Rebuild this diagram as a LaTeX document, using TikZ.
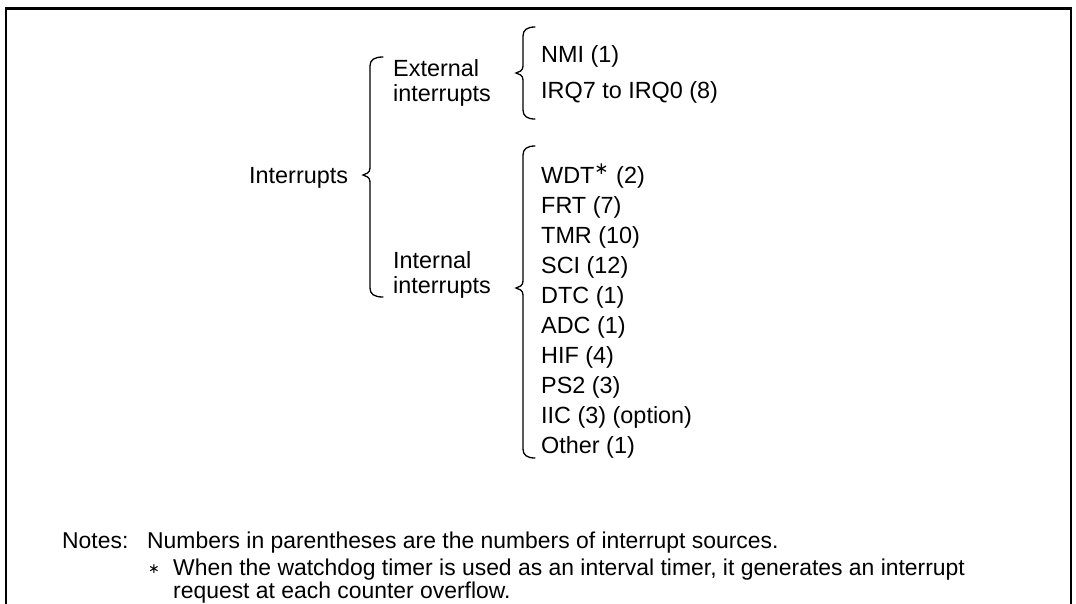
\documentclass[tikz,border=0pt]{standalone}
\usepackage{fontspec}
\setmainfont{Liberation Sans}
\newfontfamily\symfont{DejaVu Sans}
\newcommand\drawbrace[6]{% xv, xtip, xcurl, ytop, ymid, ybot
  \draw[bracestyle] (#3,#4) .. controls (#1+4,#4) and (#1,#4+3) .. (#1,#4+9)
    -- (#1,#5-7) .. controls (#1,#5-2) and (#2+3,#5-1) .. (#2,#5)
    .. controls (#2+3,#5+1) and (#1,#5+2) .. (#1,#5+7)
    -- (#1,#6-9) .. controls (#1,#6-3) and (#1+4,#6) .. (#3,#6);}
\begin{document}
\begin{tikzpicture}[x=1pt,y=-1pt,
  every node/.style={inner sep=0pt, font=\fontsize{23.4}{25}\selectfont},
  lbl/.style={anchor=base west},
  note/.style={anchor=base west, font=\fontsize{22.9}{25}\selectfont},
  bracestyle/.style={line width=1.3pt, line cap=round},
  frame/.style={line width=2.6pt}]
\useasboundingbox (0,0) rectangle (1076,603);
\draw[frame] (6,604) -- (6,8.7) -- (1071,8.7) -- (1071,604);

\node[lbl] (int) at (249,183) {Interrupts};
\node[lbl, align=left] (ext) at (393,101) {External\\interrupts};
\node[lbl, align=left] (inl) at (393,293) {Internal\\interrupts};

\node[lbl] (nmi) at (541,62) {NMI (1)};
\node[lbl] (irq) at (541,98) {IRQ7 to IRQ0 (8)};

\node[lbl] (wdt) at (541,183) {WDT\raisebox{9pt}{\symfont\fontsize{17}{17}\selectfont ∗}\hspace{1pt} (2)};
\node[lbl] (frt) at (541,213) {FRT (7)};
\node[lbl] (tmr) at (541,243) {TMR (10)};
\node[lbl] (sci) at (541,273) {SCI (12)};
\node[lbl] (dtc) at (541,303) {DTC (1)};
\node[lbl] (adc) at (541,333) {ADC (1)};
\node[lbl] (hif) at (541,363) {HIF (4)};
\node[lbl] (ps2) at (541,393) {PS2 (3)};
\node[lbl] (iic) at (541,423) {IIC (3) (option)};
\node[lbl] (oth) at (541,453) {Other (1)};

\drawbrace{370}{363}{383}{57}{175}{297}
\drawbrace{523}{516}{535}{27}{73}{119}
\drawbrace{523}{516}{535}{146}{288}{458}

\node[note] (notes) at (62,548) {Notes:};
\node[note] (n1) at (147,548) {Numbers in parentheses are the numbers of interrupt sources.};
\node[note] (star) at (148,573) {\symfont\fontsize{14}{14}\selectfont ∗};
\node[note] (n2) at (173,575) {When the watchdog timer is used as an interval timer, it generates an interrupt};
\node[note] (n3) at (173,598) {request at each counter overflow.};
\end{tikzpicture}
\end{document}
